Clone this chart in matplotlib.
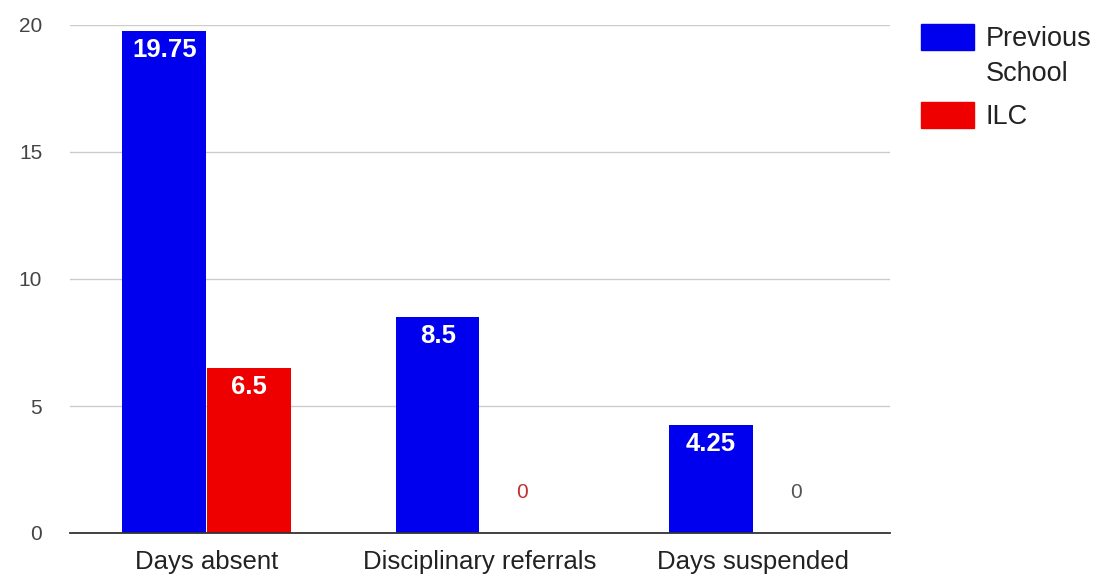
import numpy as np
import matplotlib.pyplot as plt
from matplotlib.patches import Rectangle

plt.rcParams['font.family'] = ['Liberation Sans', 'DejaVu Sans']

categories = ["Days absent", "Disciplinary referrals", "Days suspended"]
previous_school = [19.75, 8.5, 4.25]
ilc = [6.5, 0, 0]
series_names = ["Previous\nSchool", "ILC"]
y_ticks = [0, 5, 10, 15, 20]

blue = "#0000ee"
red = "#ee0000"
W, H = 1102, 583

fig = plt.figure(figsize=(W / 100, H / 100), dpi=100)
ax = fig.add_axes([70 / W, 50 / H, 820 / W, 508 / H])

x = np.arange(len(categories))
width = 0.306
bars_prev = ax.bar(x - width / 2 - 0.002, previous_school, width, color=blue, zorder=3)
bars_ilc = ax.bar(x + width / 2 + 0.002, ilc, width, color=red, zorder=3)

ax.set_xlim(-0.5, len(categories) - 0.5)
ax.set_ylim(0, 20)
ax.set_yticks(y_ticks)
ax.set_yticklabels([str(t) for t in y_ticks], fontsize=15, color="#444444")
ax.set_xticks(x)
ax.set_xticklabels(categories, fontsize=18.5, color="#222222")
ax.tick_params(axis="both", length=0)
ax.tick_params(axis="y", pad=20)
ax.tick_params(axis="x", pad=12)

ax.grid(axis="y", color="#cccccc", linewidth=1, zorder=0)
for side in ["top", "right", "left"]:
    ax.spines[side].set_visible(False)
ax.spines["bottom"].set_color("#333333")
ax.spines["bottom"].set_linewidth(1.3)
ax.spines["bottom"].set_zorder(4)

# value labels: inside the bar top, or just above the baseline for zeros
for bars, zero_color in ((bars_prev, "#555555"), (bars_ilc, None)):
    for i, rect in enumerate(bars):
        val = rect.get_height()
        cx = rect.get_x() + rect.get_width() / 2
        txt = f"{val:g}"
        if val > 0:
            ax.annotate(txt, (cx, val), xytext=(0, -7), textcoords="offset pixels",
                        ha="center", va="top", fontsize=18.5, fontweight="bold",
                        color="white", zorder=5)
        else:
            c = zero_color or ("#c23030" if i == 1 else "#555555")
            ax.annotate(txt, (cx, 0), xytext=(0, 41), textcoords="offset pixels",
                        ha="center", va="center", fontsize=15, color=c, zorder=5)

# legend drawn in figure pixels: swatch aligned with the first label line
line_gap = 35
legend_rows = [(series_names[0], blue, 37), (series_names[1], red, 115)]
for label, color, yc in legend_rows:
    fig.add_artist(Rectangle((921 / W, 1 - (yc + 13) / H), 53 / W, 26 / H,
                             transform=fig.transFigure, color=color))
    n_lines = label.count("\n")
    fig.text(986 / W, 1 - (yc + 2 + n_lines * line_gap / 2) / H, label, fontsize=19.5,
             color="#222222", va="center", ha="left", linespacing=1.45)

fig.savefig("out.png", dpi=100)
